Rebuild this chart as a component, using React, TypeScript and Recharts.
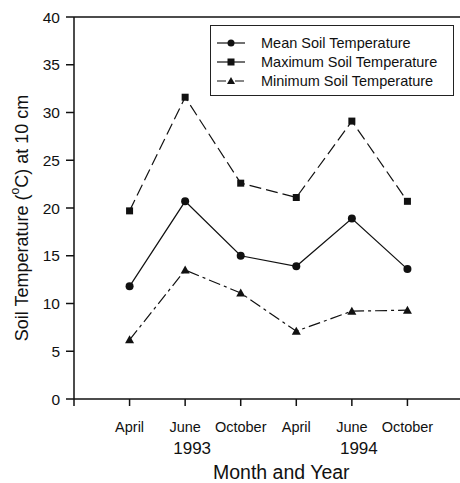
import React from 'react';
import { LineChart, Line, XAxis, YAxis, ReferenceLine } from 'recharts';

const months = ['April', 'June', 'October', 'April', 'June', 'October'];
const years = ['', '1993', '', '', '1994', ''];
const meanTemp = [11.8, 20.7, 15.0, 13.9, 18.9, 13.6];
const maxTemp = [19.7, 31.6, 22.6, 21.1, 29.1, 20.7];
const minTemp = [6.2, 13.5, 11.1, 7.1, 9.2, 9.3];
const yTicks = [0, 5, 10, 15, 20, 25, 30, 35, 40];
const xTicks = [0, 1, 2, 3, 4, 5, 6];

const data = months.map((m, i) => ({
  pos: i + 1,
  month: m,
  year: years[i],
  mean: meanTemp[i],
  max: maxTemp[i],
  min: minTemp[i],
}));

const FONT = '"Liberation Sans", Arial, sans-serif';
const INK = '#111';

const MonthTick = ({ x, y, payload }: any) => {
  const i = payload.value - 1;
  if (i < 0) return null;
  return (
    <g>
      <text x={x} y={y + 24} textAnchor="middle" fontSize={14.5} fill={INK} fontFamily={FONT}>
        {months[i]}
      </text>
      {years[i] && (
        <text x={x + 7} y={y + 46} textAnchor="middle" fontSize={17} fill={INK} fontFamily={FONT}>
          {years[i]}
        </text>
      )}
    </g>
  );
};

const Square = ({ cx, cy }: any) => (
  <rect x={cx - 3.5} y={cy - 3.5} width={7} height={7} fill={INK} />
);
const Triangle = ({ cx, cy }: any) => (
  <polygon points={`${cx},${cy - 4.5} ${cx - 4.5},${cy + 3.5} ${cx + 4.5},${cy + 3.5}`} fill={INK} />
);
const Dot = ({ cx, cy }: any) => <circle cx={cx} cy={cy} r={4} fill={INK} />;

const YLabel = () => (
  <text
    x={22}
    y={218}
    transform="rotate(-90 22 218)"
    textAnchor="middle"
    dominantBaseline="central"
    fontSize={18}
    fill={INK}
    fontFamily={FONT}
  >
    Soil Temperature (
    <tspan fontSize={12} dy={-7}>o</tspan>
    <tspan dy={7}>C) at 10 cm</tspan>
  </text>
);

const legendItems = [
  { label: 'Mean Soil Temperature', dash: undefined, mark: 'circle' },
  { label: 'Maximum Soil Temperature', dash: undefined, mark: 'square' },
  { label: 'Minimum Soil Temperature', dash: '9 3 3 3', mark: 'triangle' },
];

const LegendBox = () => (
  <div
    style={{
      position: 'absolute',
      left: 210,
      top: 25,
      width: 238,
      border: '1px solid #222',
      background: '#fff',
      padding: '7px 0 5px 4px',
      fontFamily: FONT,
      fontSize: 14.5,
      color: INK,
    }}
  >
    {legendItems.map((it) => (
      <div key={it.label} style={{ display: 'flex', alignItems: 'center', height: 19 }}>
        <svg width={44} height={12}>
          <line x1={2} y1={6} x2={30} y2={6} stroke={INK} strokeWidth={1.2} strokeDasharray={it.dash} />
          {it.mark === 'circle' && <circle cx={16} cy={6} r={3.5} fill={INK} />}
          {it.mark === 'square' && <rect x={12.5} y={2.5} width={7} height={7} fill={INK} />}
          {it.mark === 'triangle' && <polygon points="16,2 12,9 20,9" fill={INK} />}
        </svg>
        <span style={{ marginLeft: 2 }}>{it.label}</span>
      </div>
    ))}
  </div>
);

const App: React.FC = () => {
  return (
    <div style={{ position: 'absolute', left: 0, top: 0, width: 460, height: 483, overflow: 'hidden', background: '#fff' }}>
      <LineChart
        width={470}
        height={483}
        data={data}
        margin={{ top: 17, right: 7, left: 0, bottom: 0 }}
      >
        <XAxis
          dataKey="pos"
          type="number"
          domain={[0, 7]}
          ticks={xTicks}
          interval={0}
          height={84}
          tick={<MonthTick />}
          tickSize={7}
          stroke={INK}
          strokeWidth={1.5}
          allowDataOverflow
        />
        <YAxis
          domain={[0, 40]}
          ticks={yTicks}
          width={74}
          tickSize={8}
          tickMargin={6}
          stroke={INK}
          strokeWidth={1.5}
          tick={{ fontSize: 15.5, fill: INK, fontFamily: FONT }}
          label={<YLabel />}
        />
        <ReferenceLine y={40} stroke={INK} strokeWidth={1.5} ifOverflow="visible" />
        <Line
          dataKey="max"
          name="Maximum Soil Temperature"
          stroke={INK}
          strokeWidth={1.2}
          strokeDasharray="12 5"
          dot={<Square />}
          isAnimationActive={false}
        />
        <Line
          dataKey="mean"
          name="Mean Soil Temperature"
          stroke={INK}
          strokeWidth={1.2}
          dot={<Dot />}
          isAnimationActive={false}
        />
        <Line
          dataKey="min"
          name="Minimum Soil Temperature"
          stroke={INK}
          strokeWidth={1.2}
          strokeDasharray="12 4 3 4"
          dot={<Triangle />}
          isAnimationActive={false}
        />
      </LineChart>
      <LegendBox />
      <div
        style={{
          position: 'absolute',
          left: 213,
          top: 461,
          fontFamily: FONT,
          fontSize: 19.5,
          color: INK,
          whiteSpace: 'nowrap',
        }}
      >
        Month and Year
      </div>
    </div>
  );
};

export default App;
